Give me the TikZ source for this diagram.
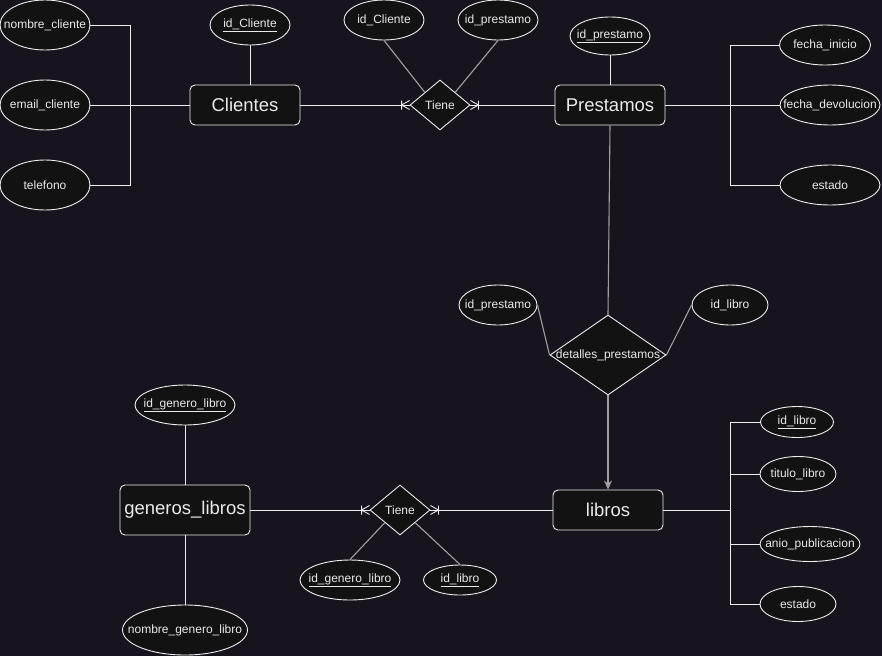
\documentclass[tikz,border=0pt]{standalone}
\usepackage{fontspec}
\setmainfont{Liberation Sans}
\usetikzlibrary{shapes.geometric,arrows.meta}
\definecolor{bgc}{HTML}{18141D}
\definecolor{fillc}{HTML}{121212}
\definecolor{strk}{HTML}{EEEEEE}
\definecolor{txtc}{HTML}{EAEAEA}
\definecolor{grayl}{HTML}{A0A0A0}
\tikzset{
  attr/.style={ellipse, draw=strk, fill=fillc, line width=0.9pt, inner sep=0pt, text=txtc, font=\fontsize{12}{14}\selectfont},
  ent/.style={rectangle, rounded corners=5pt, draw=strk, fill=fillc, line width=0.9pt, inner sep=0pt, text=txtc, font=\fontsize{18.5}{22}\selectfont},
  rel/.style={diamond, draw=strk, fill=fillc, line width=0.9pt, inner sep=0pt, text=txtc, font=\fontsize{12}{14}\selectfont},
  wl/.style={draw=strk, line width=0.9pt},
  gl/.style={draw=grayl, line width=1.1pt},
  crow/.pic={\draw[wl] (-8,0) -- (0,4.5) (-8,0) -- (0,-4.5) (-8,-4.5) -- (-8,4.5);}
}
\newcommand{\zb}[1]{\makebox[0pt]{#1}}
\begin{document}
\begin{tikzpicture}[x=1pt,y=-1pt]
\useasboundingbox (0,0) rectangle (882,656);
\fill[bgc] (0,0) rectangle (882,656);

% Clientes
\node[ent, minimum width=110, minimum height=40] (cli) at (245,105) {Clientes};
\node[attr, minimum width=90, minimum height=50] (nc) at (45,25) {\zb{nombre\_cliente}};
\node[attr, minimum width=90, minimum height=50] (em) at (45,105) {\zb{email\_cliente}};
\node[attr, minimum width=90, minimum height=50] (tel) at (45,185) {\zb{telefono}};
\node[attr, minimum width=80, minimum height=40] (idc) at (250,25) {\zb{\underline{id\_Cliente}}};
\coordinate (bL) at (130,105);
\draw[wl] (nc.east) -| (bL);
\draw[wl] (tel.east) -| (bL);
\draw[wl] (em.east) -- (cli.west);
\draw[wl] (idc.south) -- (idc.south |- cli.north);

% Tiene 1
\node[rel, minimum width=60, minimum height=50] (t1) at (440,105) {\zb{Tiene}};
\node[attr, minimum width=80, minimum height=40] (a1) at (384,20) {\zb{id\_Cliente}};
\node[attr, minimum width=80, minimum height=40] (a2) at (498,20) {\zb{id\_prestamo}};
\draw[gl] (a1.south) -- (t1.north west);
\draw[gl] (a2.south) -- (t1.north east);

% Prestamos
\node[ent, minimum width=110, minimum height=40] (pre) at (610,105) {Prestamos};
\node[attr, minimum width=80, minimum height=38] (idp) at (610,36) {\zb{\underline{id\_prestamo}}};
\node[attr, minimum width=91, minimum height=40] (fi) at (825,45) {\zb{fecha\_inicio}};
\node[attr, minimum width=100, minimum height=40] (fd) at (830,105) {\zb{fecha\_devolucion}};
\node[attr, minimum width=100, minimum height=40] (es1) at (830,185) {\zb{estado}};
\coordinate (bP) at (730,105);
\draw[wl] (idp.south) -- (pre.north);
\draw[wl] (fi.west) -| (bP);
\draw[wl] (es1.west) -| (bP);
\draw[wl] (pre.east) -- (fd.west);

\draw[wl] (cli.east) -- (t1.west);
\draw[wl] (pre.west) -- (t1.east);
\pic at (t1.west) {crow};
\pic[xscale=-1] at (t1.east) {crow};

% detalles_prestamos
\node[rel, minimum width=116, minimum height=80] (dp) at (608,355) {\zb{detalles\_prestamos}};
\node[attr, minimum width=78, minimum height=40] (rp) at (498,305) {\zb{id\_prestamo}};
\node[attr, minimum width=76, minimum height=40] (rl) at (730,305) {\zb{id\_libro}};
\draw[gl] (rp.east) -- (dp.west);
\draw[gl] (rl.west) -- (dp.east);
\draw[gl] (pre.south) -- (dp.north);

% libros
\node[ent, minimum width=110, minimum height=40] (lib) at (608,510) {libros};
\draw[gl, -{Stealth[length=9pt,width=8pt,inset=3pt]}] (dp.south) -- (lib.north);
\node[attr, minimum width=73, minimum height=31] (idl) at (797,422) {\zb{\underline{id\_libro}}};
\node[attr, minimum width=76, minimum height=35] (tl) at (798,474) {\zb{titulo\_libro}};
\node[attr, minimum width=100, minimum height=35] (ap) at (810,544) {\zb{anio\_publicacion}};
\node[attr, minimum width=76, minimum height=35] (es2) at (798,604) {\zb{estado}};
\coordinate (bB) at (730,510);
\draw[wl] (lib.east) -- (bB);
\draw[wl] (idl.west) -| (bB);
\draw[wl] (tl.west) -| (bB);
\draw[wl] (ap.west) -| (bB);
\draw[wl] (es2.west) -| (bB);

% generos_libros
\node[ent, minimum width=130, minimum height=50] (gen) at (185,510) {generos\_libros};
\node[attr, minimum width=100, minimum height=40] (idg) at (185,405) {\zb{\underline{id\_genero\_libro}}};
\node[attr, minimum width=125, minimum height=50] (ng) at (185,630) {\zb{nombre\_genero\_libro}};
\draw[wl] (idg.south) -- (gen.north);
\draw[wl] (gen.south) -- (ng.north);

% Tiene 2
\node[rel, minimum width=60, minimum height=50] (t2) at (400,510) {\zb{Tiene}};
\node[attr, minimum width=100, minimum height=40] (g1) at (350,580) {\zb{\underline{id\_genero\_libro}}};
\node[attr, minimum width=73, minimum height=30] (g2) at (460,580) {\zb{\underline{id\_libro}}};
\draw[gl] (g1.north) -- (t2.south west);
\draw[gl] (g2.north) -- (t2.south east);
\draw[wl] (gen.east) -- (t2.west);
\draw[wl] (lib.west) -- (t2.east);
\pic at (t2.west) {crow};
\pic[xscale=-1] at (t2.east) {crow};
\end{tikzpicture}
\end{document}
